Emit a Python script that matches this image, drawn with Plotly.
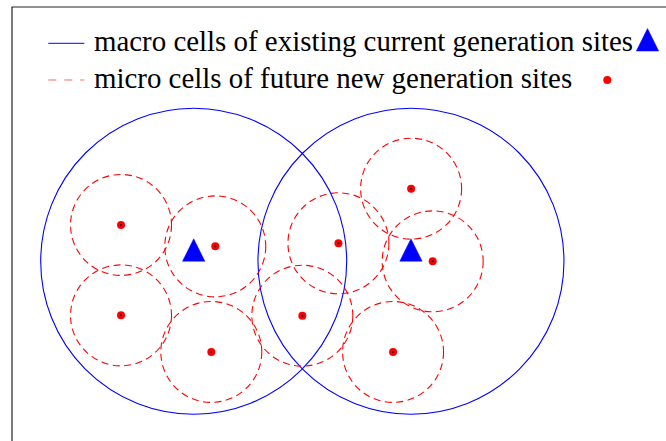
import plotly.graph_objects as go

# ---------------- data (units: macro cell radius = 1) ----------------
macro_x = [0.0, 1.42]
macro_y = [0.0, 0.0]
macro_radius = 1.0

micro_x = [-0.475, 0.141, -0.475, 0.115, 0.710, 0.946, 1.421, 1.562, 1.303]
micro_y = [0.237, 0.097, -0.354, -0.593, -0.356, 0.117, 0.474, -0.001, -0.593]
micro_radius = 0.33

legend_labels = [
    "macro cells of existing current generation sites",
    "micro cells of future new generation sites",
]

# ---------------- layout geometry ----------------
W, H = 666, 441
PX = 153.0               # pixels per data unit
X0_PX, Y0_PX = 193.7, 261.2
x_range = [-X0_PX / PX, (W - X0_PX) / PX]
y_range = [(Y0_PX - H) / PX, Y0_PX / PX]


def px_to_data(px, py):
    return (px - X0_PX) / PX, (Y0_PX - py) / PX


BLUE = "#0000ff"
RED = "#ff0000"
FONT = "Liberation Serif"
TRI_W, TRI_H = 22.3 / PX, 22.4 / PX


def triangles(xs, ys):
    tx, ty = [], []
    for x, y in zip(xs, ys):
        tx += [x - TRI_W / 2, x + TRI_W / 2, x, x - TRI_W / 2, None]
        ty += [y, y, y + TRI_H, y, None]
    return tx, ty


fig = go.Figure()

shapes = []
# macro cells
for cx, cy in zip(macro_x, macro_y):
    shapes.append(dict(type="circle", xref="x", yref="y",
                       x0=cx - macro_radius, x1=cx + macro_radius,
                       y0=cy - macro_radius, y1=cy + macro_radius,
                       line=dict(color=BLUE, width=1.1), layer="below"))
# micro cells
for cx, cy in zip(micro_x, micro_y):
    shapes.append(dict(type="circle", xref="x", yref="y",
                       x0=cx - micro_radius, x1=cx + micro_radius,
                       y0=cy - micro_radius, y1=cy + micro_radius,
                       line=dict(color=RED, width=1.1, dash="7px,4.5px"), layer="below"))

# frame
shapes.append(dict(type="rect", xref="paper", yref="paper",
                   x0=12 / W, x1=1.2, y0=-0.2, y1=1 - 7 / H,
                   line=dict(color="#222222", width=1.2)))

# legend line samples
shapes.append(dict(type="line", xref="paper", yref="paper",
                   x0=48.3 / W, x1=84.3 / W, y0=1 - 43.3 / H, y1=1 - 43.3 / H,
                   line=dict(color=BLUE, width=1)))
shapes.append(dict(type="line", xref="paper", yref="paper",
                   x0=48.3 / W, x1=84.3 / W, y0=1 - 80 / H, y1=1 - 80 / H,
                   line=dict(color="rgba(255,0,0,0.6)", width=1.2, dash="8px,8px")))

# macro site triangles
tx, ty = triangles(macro_x, macro_y)
fig.add_trace(go.Scatter(x=tx, y=ty, mode="lines", fill="toself",
                         fillcolor=BLUE, line=dict(color=BLUE, width=0.5),
                         hoverinfo="skip", showlegend=False))

# micro site dots
fig.add_trace(go.Scatter(x=micro_x, y=micro_y, mode="markers",
                         marker=dict(size=8, color=RED, line=dict(width=0)),
                         hoverinfo="skip", showlegend=False))
fig.add_trace(go.Scatter(x=micro_x, y=micro_y, mode="markers",
                         marker=dict(size=2, color="#000000", line=dict(width=0)),
                         hoverinfo="skip", showlegend=False))

# legend markers
lx, ly = px_to_data(647.5, 51)
ltx, lty = triangles([lx], [ly])
fig.add_trace(go.Scatter(x=ltx, y=lty, mode="lines", fill="toself",
                         fillcolor=BLUE, line=dict(color=BLUE, width=0.5),
                         hoverinfo="skip", showlegend=False, cliponaxis=False))
dx, dy = px_to_data(607.3, 80)
fig.add_trace(go.Scatter(x=[dx], y=[dy], mode="markers",
                         marker=dict(size=8, color=RED, line=dict(width=0)),
                         hoverinfo="skip", showlegend=False))

annotations = []
for label, ypx in zip(legend_labels, [41.0, 78.3]):
    annotations.append(dict(text=label, xref="paper", yref="paper",
                            x=93 / W, y=1 - ypx / H, xanchor="left", yanchor="middle",
                            showarrow=False, borderpad=0,
                            font=dict(family=FONT, size=28.9, color="#000000")))

fig.update_layout(
    width=W, height=H, autosize=False,
    margin=dict(l=0, r=0, t=0, b=0),
    paper_bgcolor="white", plot_bgcolor="white",
    xaxis=dict(range=x_range, visible=False, fixedrange=True),
    yaxis=dict(range=y_range, visible=False, fixedrange=True),
    shapes=shapes, annotations=annotations,
    showlegend=False,
)

fig.write_html("out.html",
               config={"displayModeBar": False, "staticPlot": True},
               post_script="document.body.style.margin='0';document.body.style.overflow='hidden';")
